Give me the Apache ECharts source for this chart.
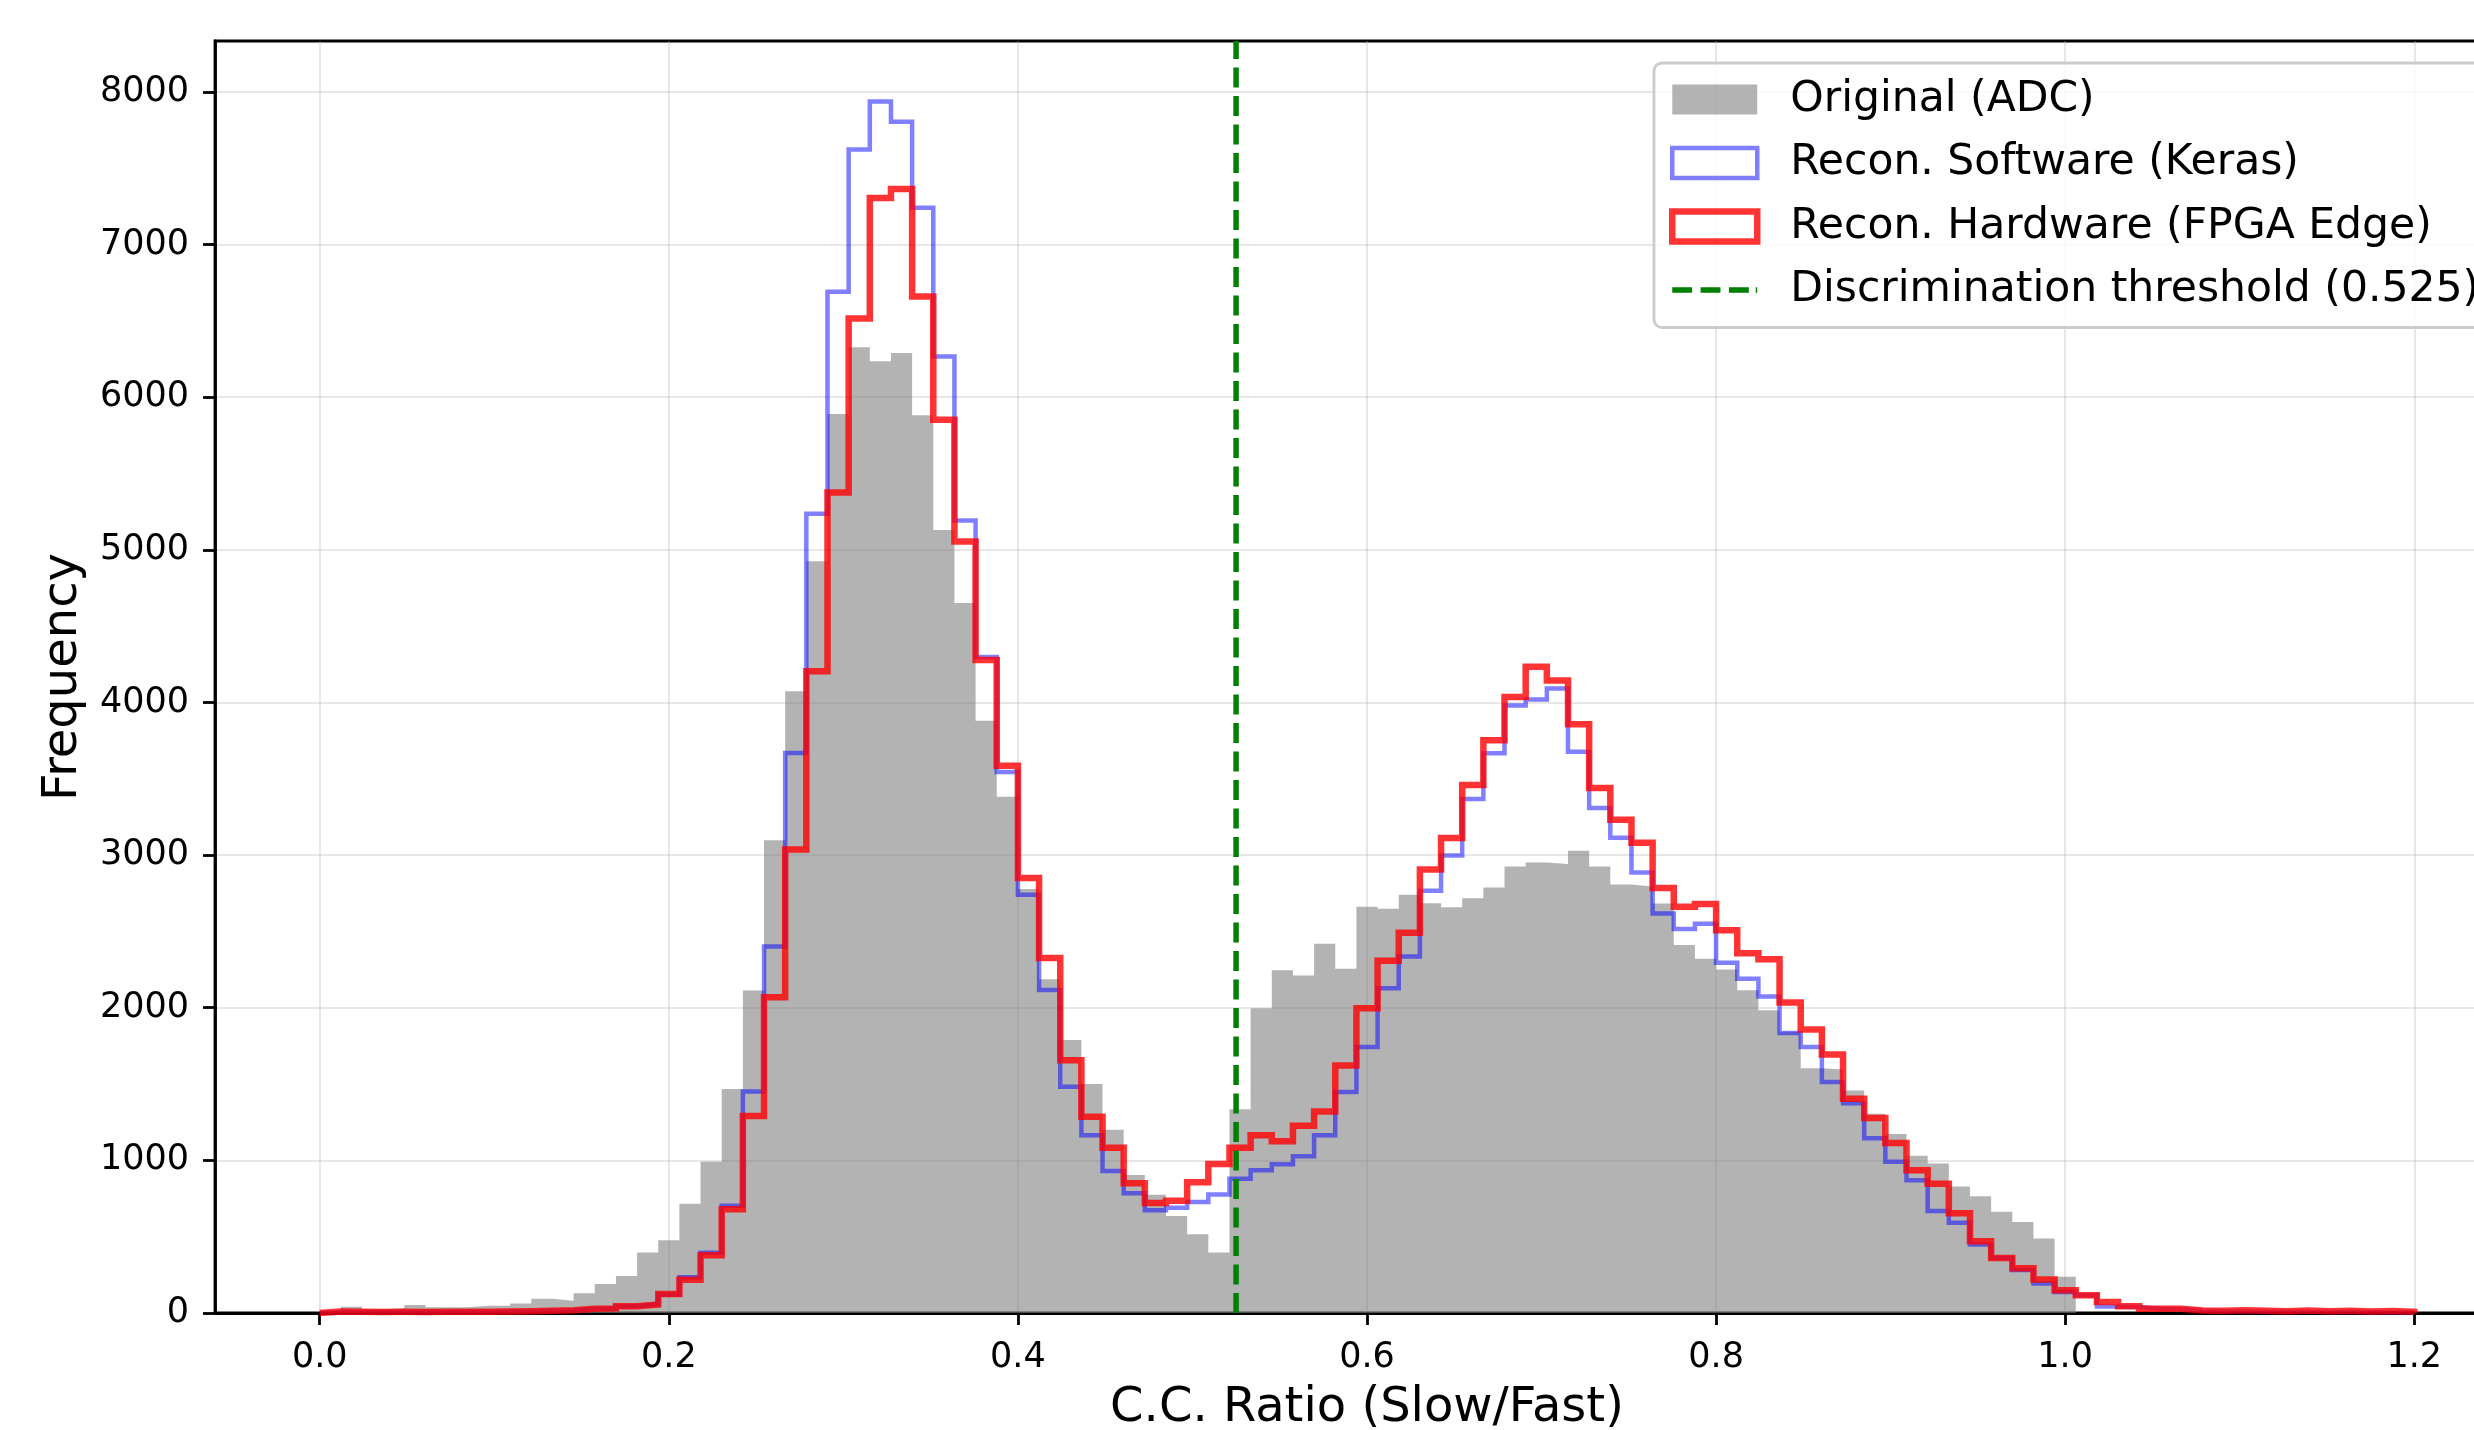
<!DOCTYPE html>
<html>
<head>
<meta charset="utf-8">
<script src="https://cdn.jsdelivr.net/npm/echarts@6/dist/echarts.min.js"></script>
<style>
  html, body { margin: 0; padding: 0; background: #ffffff; }
  #chart { width: 2474px; height: 1430px; }
</style>
</head>
<body>
<div id="chart"></div>
<script>
// ---------------- data ----------------
const BIN_START = 0.0;
const BIN_END = 1.2;
const BIN_COUNT = 99;
const THRESHOLD = 0.525;

const seriesNames = [
  'Original (ADC)',
  'Recon. Software (Keras)',
  'Recon. Hardware (FPGA Edge)',
  'Discrimination threshold (0.525)'
];

const xTickValues = [0.0, 0.2, 0.4, 0.6, 0.8, 1.0, 1.2];
const yTickValues = [0, 1000, 2000, 3000, 4000, 5000, 6000, 7000, 8000];

const xLabel = 'C.C. Ratio (Slow/Fast)';
const yLabel = 'Frequency';

// bin counts (99 bins between 0 and 1.2)
const originalCounts = [
  10, 41, 24, 31, 52, 37, 37, 48, 48, 63,
  94, 81, 129, 190, 243, 397, 476, 716, 991, 1468,
  2113, 3098, 4074, 4926, 5890, 6327, 6235, 6289, 5882, 5130,
  4652, 3880, 3383, 2778, 2187, 1788, 1500, 1200, 904, 774,
  636, 516, 396, 1335, 1996, 2246, 2211, 2419, 2256, 2662,
  2648, 2741, 2685, 2658, 2717, 2788, 2925, 2951, 2941, 3029,
  2925, 2808, 2795, 2683, 2411, 2321, 2251, 2115, 1984, 1843,
  1603, 1595, 1458, 1305, 1172, 1031, 980, 829, 765, 663,
  597, 488, 238, 0, 0, 0, 0, 0, 0, 0,
  0, 0, 0, 0, 0, 0, 0, 0, 0
];

const kerasCounts = [
  6, 5, 6, 7, 6, 7, 8, 8, 10, 11,
  14, 17, 28, 30, 45, 58, 122, 234, 395, 702,
  1451, 2402, 3669, 5236, 6691, 7623, 7937, 7804, 7242, 6267,
  5193, 4298, 3545, 2740, 2117, 1483, 1164, 930, 784, 674,
  690, 728, 777, 879, 935, 975, 1027, 1164, 1448, 1743,
  2128, 2336, 2766, 2998, 3368, 3667, 3980, 4020, 4091, 3677,
  3309, 3114, 2886, 2618, 2516, 2550, 2295, 2190, 2073, 1835,
  1742, 1513, 1374, 1145, 991, 869, 669, 592, 448, 360,
  282, 194, 138, 116, 43, 39, 28, 26, 14, 12,
  10, 9, 8, 8, 7, 6, 6, 5, 4
];

const fpgaCounts = [
  10, 8, 7, 8, 7, 8, 9, 8, 10, 12,
  15, 18, 28, 30, 44, 55, 125, 218, 378, 680,
  1290, 2068, 3037, 4205, 5375, 6515, 7305, 7365, 6660, 5852,
  5054, 4278, 3585, 2850, 2326, 1656, 1286, 1083, 850, 721,
  736, 856, 976, 1083, 1164, 1125, 1227, 1320, 1622, 1996,
  2308, 2492, 2905, 3112, 3459, 3753, 4036, 4234, 4144, 3857,
  3440, 3231, 3081, 2785, 2662, 2680, 2507, 2357, 2318, 2034,
  1858, 1693, 1404, 1278, 1113, 935, 847, 654, 470, 360,
  293, 220, 149, 116, 72, 45, 28, 28, 16, 14,
  18, 15, 12, 16, 12, 15, 10, 13, 8
];

// ---------------- derived structures ----------------
const FONT = '"DejaVu Sans", "Liberation Sans", sans-serif';
const binWidth = (BIN_END - BIN_START) / BIN_COUNT;
const edges = Array.from({ length: BIN_COUNT + 1 }, (_, i) => BIN_START + i * binWidth);

// matplotlib-style margins
const xMargin = 0.05 * (BIN_END - BIN_START);
const xMin = BIN_START - xMargin;
const xMax = BIN_END + xMargin;
const yMax = 1.05 * Math.max(...originalCounts, ...kerasCounts, ...fpgaCounts);

function stepData(values) {
  const d = [[edges[0], 0]];
  values.forEach((v, i) => d.push([edges[i], v]));
  d.push([edges[BIN_COUNT], 0]);
  return d;
}

const GRAY = 'rgba(128,128,128,0.6)';
const BLUE = 'rgba(0,0,255,0.5)';
const RED = 'rgba(255,0,0,0.8)';
const GREEN = '#008000';
const GRID_COLOR = 'rgba(176,176,176,0.3)';

// dashed-line legend handle (three dashes, matplotlib '--' look)
const DASH_ICON = 'path://M0,0h20v5.5h-20z M28.5,0h20v5.5h-20z M57,0h20v5.5h-20z M84,0h1.5v5.5h-1.5z';

const chart = echarts.init(document.getElementById('chart'), null, { renderer: 'canvas' });

const option = {
  animation: false,
  backgroundColor: '#ffffff',
  textStyle: { fontFamily: FONT },
  grid: {
    left: 215, top: 41, width: 2304, bottom: 117,
    outerBoundsMode: 'none',
    containLabel: false,
    show: true, borderColor: '#000000', borderWidth: 2.8,
    backgroundColor: 'rgba(0,0,0,0)'
  },
  xAxis: {
    type: 'value',
    min: xMin, max: xMax,
    splitNumber: 7,
    name: xLabel,
    nameLocation: 'middle',
    nameGap: 72,
    nameTextStyle: { fontSize: 48, color: '#000', fontFamily: FONT, lineHeight: 48 },
    axisLine: { show: true, onZero: false, lineStyle: { color: '#000', width: 2.8 } },
    axisTick: { show: true, customValues: xTickValues, length: 12, lineStyle: { color: '#000', width: 2.8 } },
    axisLabel: {
      customValues: xTickValues,
      formatter: v => Number(v).toFixed(1),
      fontSize: 35, color: '#000', fontFamily: FONT, margin: 27, lineHeight: 35
    },
    splitLine: { show: true, lineStyle: { color: GRID_COLOR, width: 2 } }
  },
  yAxis: {
    type: 'value',
    min: 0, max: yMax, interval: 1000,
    name: yLabel,
    nameLocation: 'middle',
    nameGap: 127,
    nameTextStyle: { fontSize: 48, color: '#000', fontFamily: FONT, lineHeight: 48 },
    axisLine: { show: true, onZero: false, lineStyle: { color: '#000', width: 2.8 } },
    axisTick: { show: true, customValues: yTickValues, length: 12, lineStyle: { color: '#000', width: 2.8 } },
    axisLabel: {
      customValues: yTickValues,
      formatter: v => String(Math.round(v)),
      fontSize: 35, color: '#000', fontFamily: FONT, margin: 26
    },
    splitLine: { show: true, lineStyle: { color: GRID_COLOR, width: 2 } }
  },
  legend: {
    orient: 'vertical',
    left: 1654, top: 63,
    padding: [15, 15, 16, 15],
    itemWidth: 85, itemHeight: 30, itemGap: 20.5,
    backgroundColor: 'rgba(255,255,255,0.8)',
    borderColor: '#cccccc', borderWidth: 2.8, borderRadius: 8,
    z: 20,
    selectedMode: false,
    textStyle: { fontSize: 42.5, lineHeight: 42.5, color: '#000', fontFamily: FONT, padding: [0, 0, 0, 28] },
    data: [
      { name: seriesNames[0], icon: 'rect', itemStyle: { color: GRAY, borderWidth: 0, opacity: 1 } },
      { name: seriesNames[1], icon: 'rect', itemStyle: { color: 'rgba(0,0,0,0)', borderColor: BLUE, borderWidth: 4.5 } },
      { name: seriesNames[2], icon: 'rect', itemStyle: { color: 'rgba(0,0,0,0)', borderColor: RED, borderWidth: 6.5 } },
      { name: seriesNames[3], icon: DASH_ICON, itemStyle: { color: GREEN, borderWidth: 0, opacity: 1 } }
    ]
  },
  series: [
    {
      name: seriesNames[0],
      type: 'line',
      z: 2,
      step: 'end',
      symbol: 'none',
      showSymbol: false,
      clip: true,
      itemStyle: { color: GRAY },
      lineStyle: { width: 0, opacity: 0 },
      areaStyle: { color: GRAY, opacity: 1, origin: 'start' },
      data: stepData(originalCounts)
    },
    {
      name: seriesNames[1],
      type: 'line',
      z: 3,
      step: 'end',
      symbol: 'none',
      showSymbol: false,
      clip: true,
      itemStyle: { color: BLUE },
      lineStyle: { color: BLUE, width: 4.5, join: 'miter' },
      data: stepData(kerasCounts)
    },
    {
      name: seriesNames[2],
      type: 'line',
      z: 4,
      step: 'end',
      symbol: 'none',
      showSymbol: false,
      clip: true,
      itemStyle: { color: RED },
      lineStyle: { color: RED, width: 6.5, join: 'miter' },
      data: stepData(fpgaCounts)
    },
    {
      name: seriesNames[3],
      type: 'line',
      z: 5,
      symbol: 'none',
      showSymbol: false,
      itemStyle: { color: GREEN },
      lineStyle: { color: GREEN, width: 5.5, type: [20, 8.5] },
      data: [[THRESHOLD, 0], [THRESHOLD, yMax]]
    }
  ]
};

chart.setOption(option);
</script>
</body>
</html>
